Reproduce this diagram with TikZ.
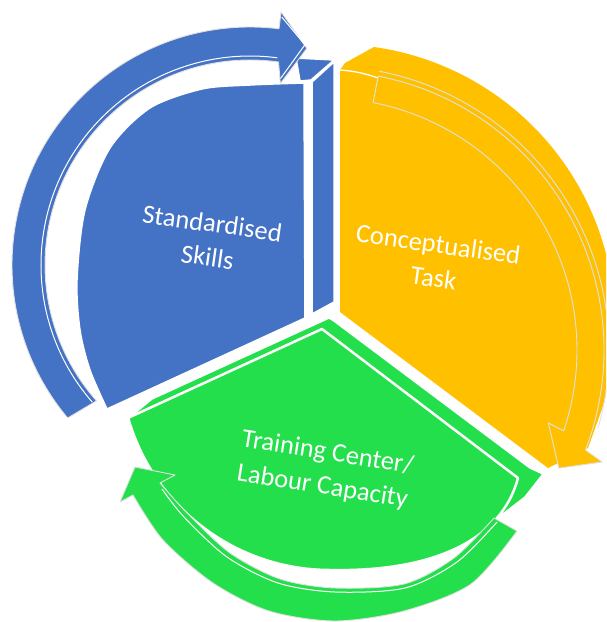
\documentclass[tikz,border=0pt]{standalone}
\usepackage{fontspec}
\setmainfont{Carlito}
\usetikzlibrary{calc}
\definecolor{cblue}{RGB}{68,114,196}
\definecolor{cyellow}{RGB}{255,192,0}
\definecolor{cgreen}{RGB}{35,223,75}
\definecolor{cline}{RGB}{225,225,225}
\tikzset{
  lbl/.style={text=white, align=center, font=\fontsize{26.5}{34}\selectfont, inner sep=0pt},
  piece/.style={draw=white, line width=1.5pt, line join=round},
  arrowshape/.style={draw=cline, line width=0.9pt, line join=round},
  bevel/.style={draw=white, line width=1pt}
}
\begin{document}
\begin{tikzpicture}[x=1pt, y=-1pt]
\useasboundingbox (0,0) rectangle (606,622);
\clip (0,0) rectangle (606,622);
\coordinate (B) at (250,265);   % centre of the blue arrow
\coordinate (YS) at (335,325);  % centre of the yellow segment
\coordinate (Y) at (325,350);   % centre of the yellow arrow
\coordinate (G) at (330,360);   % centre of the green segment

% ---------- blue segment ----------
\path[piece, fill=cblue] (304,83) -- plot[smooth] coordinates {(304,83)(250,85)(202,89)(150,108)(110,148)(85,210)(77,280)(80,330)(90,370)(107,409)} -- (305,318) -- cycle;
\path[piece, fill=cblue] (312,82) -- (334,62) -- (334,302) -- (312,314) -- cycle;
\path[piece, fill=cblue] (296,58) -- (334,60) -- (311,80) -- (300,81) -- cycle;

% blue arrow
\path[arrowshape, fill=cblue] ($(B)+(140:238)$) arc[start angle=140, end angle=277, radius=238]
  -- ($(B)+(277:255)$) -- ($(B)+(284.7:224)$) -- ($(B)+(279.5:184)$) -- ($(B)+(278:205)$)
  arc[start angle=278, end angle=138.5, radius=205] -- cycle;
\draw[bevel] ($(B)+(139:209)$) arc[start angle=139, end angle=277.5, radius=209];
\draw[bevel] ($(B)+(277.3:250)$) -- ($(B)+(284:227)$) -- ($(B)+(279.3:189)$);

% ---------- yellow segment ----------
\path[fill=cyellow] (340,312) -- (340,70) -- (345,63) -- (374,47)
  arc[start angle=-82, end angle=18, radius=280] -- (588,448) -- (548,468) -- cycle;
\draw[bevel, line width=1.3pt] (340,70) .. controls (355,71) and (367,74) .. (378,78);

% yellow arrow
\path[arrowshape, fill=cyellow] ($(Y)+(-79:279)$) arc[start angle=-79, end angle=21, radius=279]
  -- ($(Y)+(22:299)$) -- ($(Y)+(26.8:262)$) -- ($(Y)+(18.1:235)$) -- ($(Y)+(18.7:252)$)
  arc[start angle=18.7, end angle=-79, radius=252] -- cycle;
\draw[draw=cline, line width=0.9pt] ($(Y)+(-79:284)$) arc[start angle=-79, end angle=16, radius=284];

% ---------- green segment ----------
\path[piece, fill=cgreen] (152,399) -- (329,318) -- (334,321) -- (530,468) -- (543,474) -- (525,497) -- (503,514) -- (500,508) -- (518,478) -- (322,329) -- (130,417) -- cycle;
\path[piece, line width=2.5pt, fill=cgreen] (130,417) -- (322,329) -- (518,478)
  .. controls (500,545) and (425,572) .. (330,570) arc[start angle=90, end angle=164, radius=210] -- cycle;

% green arrow
\path[arrowshape, fill=cgreen] (517,531) -- plot[smooth] coordinates {(517,531)(471,584)(404,611)(335,621)(269,611)(213,583)(163,540)(133,495)} -- (120,502) -- (135,467) -- (175,475) -- (160,483) -- plot[smooth] coordinates {(160,483)(187,513)(230,553)(280,579)(335,588)(404,584)(454,558)(494,518)} -- cycle;
\draw[bevel] plot[smooth] coordinates {(162,489)(184,517)(227,557)(278,583)(335,592)(405,588)(457,562)(497,522)};

% ---------- labels ----------
\node[lbl, rotate=-8] (skills) at (210,240) {Standardised\\Skills};
\node[lbl, rotate=-8] (task) at (436,261) {Conceptualised\\Task};
\node[lbl, rotate=-9] (train) at (325,470) {Training Center/\\Labour Capacity};
\end{tikzpicture}
\end{document}
